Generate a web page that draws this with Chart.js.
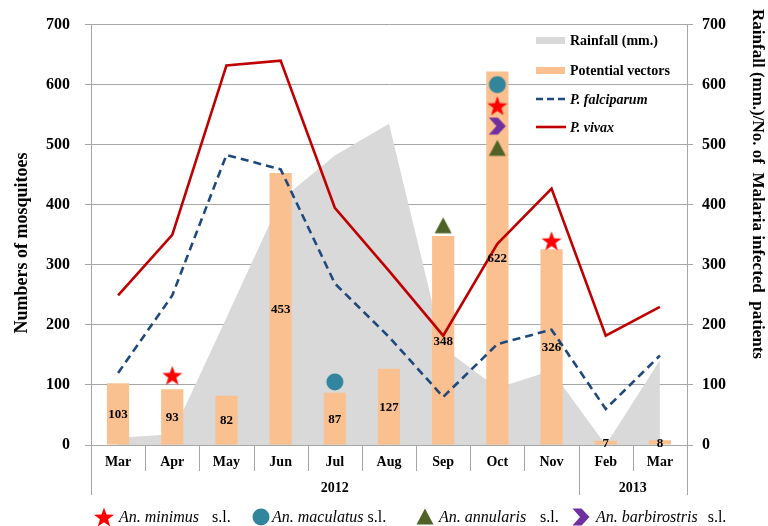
<!DOCTYPE html>
<html><head><meta charset="utf-8">
<script src="https://cdn.jsdelivr.net/npm/chart.js@4.4.1/dist/chart.umd.min.js"></script>
<style>html,body{margin:0;padding:0;background:#fff}canvas{display:block}</style>
</head><body>
<canvas id="c" width="768" height="526"></canvas>
<script>
// ---- data ----
const months = ['Mar','Apr','May','Jun','Jul','Aug','Sep','Oct','Nov','Feb','Mar'];
const yearLabels = ['2012','2013'];
const yearStart = [0, 9];
const yearEnd = [8, 10];
const potentialVectors = [103, 93, 82, 453, 87, 127, 348, 622, 326, 7, 8];
const rainfall = [12, 18, 212, 408, 482, 535, 162, 95, 124, 0, 141];
const pFalciparum = [120, 249, 483, 459, 269, 180, 80, 168, 192, 60, 149];
const pVivax = [249, 350, 632, 640, 395, 290, 182, 335, 427, 182, 230];
const anMinimus = [null, 116, null, null, null, null, null, 565, 340, null, null];
const anMaculatus = [null, null, null, null, 105, null, null, 600, null, null, null];
const anAnnularis = [null, null, null, null, null, null, 365, 494, null, null, null];
const anBarbirostris = [null, null, null, null, null, null, null, 531, null, null, null];

const FONT = "'Liberation Serif', 'Times New Roman', serif";
const C_RAIN = '#D9D9D9', C_BAR = '#FAC090', C_PF = '#1F497D', C_PV = '#C00000';
const C_STAR = '#FF0000', C_CIRC = '#31859C', C_TRI = '#4F6228', C_CHEV = '#7030A0';
const GRID = '#A6A6A6';

function drawShape(ctx, type, cx, cy) {
  ctx.beginPath();
  if (type === 'star') {
    const R = 10.5, r = 4.3;
    for (let i = 0; i < 10; i++) {
      const a = -Math.PI / 2 + i * Math.PI / 5;
      const rr = i % 2 === 0 ? R : r;
      const px = cx + rr * Math.cos(a), py = cy + rr * Math.sin(a) + 1;
      i === 0 ? ctx.moveTo(px, py) : ctx.lineTo(px, py);
    }
    ctx.closePath(); ctx.fillStyle = C_STAR;
  } else if (type === 'circle') {
    ctx.arc(cx, cy, 8.5, 0, Math.PI * 2); ctx.fillStyle = C_CIRC;
  } else if (type === 'triangle') {
    ctx.moveTo(cx, cy - 8.5); ctx.lineTo(cx + 8.5, cy + 7.5); ctx.lineTo(cx - 8.5, cy + 7.5);
    ctx.closePath(); ctx.fillStyle = C_TRI;
  } else {
    const w = 17, h = 17, x0 = cx - w / 2, y0 = cy - h / 2;
    ctx.moveTo(x0, y0); ctx.lineTo(x0 + 9, y0); ctx.lineTo(x0 + w, cy);
    ctx.lineTo(x0 + 9, y0 + h); ctx.lineTo(x0, y0 + h); ctx.lineTo(x0 + 7.5, cy);
    ctx.closePath(); ctx.fillStyle = C_CHEV;
  }
  ctx.fill();
}
function markerImg(type) {
  const cv = document.createElement('canvas');
  cv.width = 24; cv.height = 24;
  drawShape(cv.getContext('2d'), type, 12, 12);
  return cv;
}

function markerDs(label, data, type) {
  return {type: 'line', label, data, yAxisID: 'y', showLine: false,
    pointStyle: markerImg(type), pointRadius: 10, order: 1, clip: false};
}

const deco = {
  id: 'deco',
  afterDatasetsDraw(chart) {
    const ctx = chart.ctx;
    const meta = chart.getDatasetMeta(1);
    ctx.save();
    ctx.font = 'bold 13px ' + FONT;
    ctx.fillStyle = '#000'; ctx.textAlign = 'center'; ctx.textBaseline = 'middle';
    meta.data.forEach((bar, i) => {
      ctx.fillText(String(potentialVectors[i]), bar.x, (bar.y + bar.base) / 2 + 1);
    });
    ctx.restore();
  },
  afterDraw(chart) {
    const ctx = chart.ctx, xs = chart.scales.x, a = chart.chartArea;
    const b = a.bottom;
    const bound = i => (xs.getPixelForValue(i - 1) + xs.getPixelForValue(i)) / 2;
    ctx.save();
    ctx.strokeStyle = GRID; ctx.lineWidth = 1;
    // category separators
    for (let i = 1; i < months.length; i++) {
      const x = Math.round(bound(i)) + 0.5;
      const long = yearStart.includes(i);
      ctx.beginPath(); ctx.moveTo(x, b); ctx.lineTo(x, long ? 495 : 471); ctx.stroke();
    }
    [a.left, a.right].forEach(x => {
      x = Math.round(x) + 0.5;
      ctx.beginPath(); ctx.moveTo(x, b); ctx.lineTo(x, 495); ctx.stroke();
    });
    // year labels
    ctx.fillStyle = '#000'; ctx.font = 'bold 14px ' + FONT;
    ctx.textAlign = 'center'; ctx.textBaseline = 'middle';
    yearLabels.forEach((lab, k) => {
      const x0 = yearStart[k] === 0 ? a.left : bound(yearStart[k]);
      const x1 = yearEnd[k] === months.length - 1 ? a.right : bound(yearEnd[k] + 1);
      ctx.fillText(lab, (x0 + x1) / 2, 488);
    });
    // axis titles
    ctx.save();
    ctx.translate(22, 243); ctx.rotate(-Math.PI / 2);
    ctx.font = 'bold 18px ' + FONT;
    ctx.fillText('Numbers of mosquitoes', 0, 0);
    ctx.restore();
    ctx.save();
    ctx.translate(757, 184); ctx.rotate(Math.PI / 2);
    ctx.font = 'bold 17px ' + FONT;
    ctx.fillText('Rainfall (mm.)/No. of  Malaria infected  patients', 0, 0);
    ctx.restore();
    // inner legend
    ctx.textAlign = 'left';
    ctx.fillStyle = C_RAIN; ctx.fillRect(536, 37, 29, 7);
    ctx.fillStyle = C_BAR; ctx.fillRect(536, 67, 29, 7);
    ctx.strokeStyle = C_PF; ctx.lineWidth = 2.6; ctx.setLineDash([7, 4]);
    ctx.beginPath(); ctx.moveTo(536, 99); ctx.lineTo(566, 99); ctx.stroke();
    ctx.setLineDash([]);
    ctx.strokeStyle = C_PV;
    ctx.beginPath(); ctx.moveTo(536, 127); ctx.lineTo(566, 127); ctx.stroke();
    ctx.fillStyle = '#000';
    ctx.font = 'bold 14px ' + FONT;
    ctx.fillText('Rainfall (mm.)', 570, 41);
    ctx.fillText('Potential vectors', 570, 71);
    ctx.font = 'italic bold 14px ' + FONT;
    ctx.fillText('P. falciparum', 570, 100);
    ctx.fillText('P. vivax', 570, 128);
    // bottom legend
    const ly = 517;
    const items = [
      ['star', 104, 'An. minimus', 119, 212],
      ['circle', 261, 'An. maculatus', 272, null],
      ['triangle', 425, 'An. annularis', 439, 540],
      ['chevron', 581, 'An. barbirostris', 596, null]
    ];
    items.forEach(([t, mx, name, tx, slx]) => {
      drawShape(ctx, t, mx, ly);
      ctx.fillStyle = '#000';
      ctx.font = 'italic 16px ' + FONT;
      ctx.fillText(name, tx, ly + 1);
      const w = ctx.measureText(name).width;
      ctx.font = '16px ' + FONT;
      ctx.fillText('s.l.', slx !== null ? slx : tx + w + (t === 'circle' ? 4 : 10), ly + 1);
    });
    ctx.restore();
  }
};

new Chart(document.getElementById('c'), {
  data: {
    labels: months,
    datasets: [
      {type: 'line', label: 'Rainfall (mm.)', data: rainfall, yAxisID: 'y2', fill: 'origin',
        backgroundColor: C_RAIN, borderWidth: 0, borderColor: 'rgba(0,0,0,0)', pointRadius: 0, tension: 0, order: 5},
      {type: 'bar', label: 'Potential vectors', data: potentialVectors, yAxisID: 'y',
        backgroundColor: C_BAR, barPercentage: 0.41, categoryPercentage: 1, order: 4},
      {type: 'line', label: 'P. falciparum', data: pFalciparum, yAxisID: 'y2', borderColor: C_PF,
        borderWidth: 2.6, borderDash: [8, 5], pointRadius: 0, fill: false, tension: 0, order: 3},
      {type: 'line', label: 'P. vivax', data: pVivax, yAxisID: 'y2', borderColor: C_PV,
        borderWidth: 2.6, pointRadius: 0, fill: false, tension: 0, order: 2},
      markerDs('An. minimus s.l.', anMinimus, 'star'),
      markerDs('An. maculatus s.l.', anMaculatus, 'circle'),
      markerDs('An. annularis s.l.', anAnnularis, 'triangle'),
      markerDs('An. barbirostris s.l.', anBarbirostris, 'chevron')
    ]
  },
  options: {
    responsive: false, animation: false, devicePixelRatio: 1,
    layout: {padding: {top: 24, left: 0, right: 0, bottom: 0}},
    plugins: {legend: {display: false}, tooltip: {enabled: false}},
    scales: {
      x: {type: 'category', offset: true,
        grid: {display: false, drawTicks: false},
        border: {display: true, color: GRID},
        ticks: {font: {family: FONT, size: 14, weight: 'bold'}, color: '#000', padding: 9, autoSkip: false, maxRotation: 0},
        afterFit(s) { s.height = 81; }},
      y: {type: 'linear', position: 'left', min: 0, max: 700,
        ticks: {stepSize: 100, font: {family: FONT, size: 16, weight: 'bold'}, color: '#000', padding: 15},
        grid: {color: GRID, tickLength: 6},
        border: {color: GRID},
        afterFit(s) { s.width = 91; }},
      y2: {type: 'linear', position: 'right', min: 0, max: 700,
        ticks: {stepSize: 100, font: {family: FONT, size: 16, weight: 'bold'}, color: '#000', padding: 9},
        grid: {drawOnChartArea: false, color: GRID, tickLength: 6},
        border: {color: GRID},
        afterFit(s) { s.width = 81; }}
    }
  },
  plugins: [deco]
});
</script>
</body></html>
